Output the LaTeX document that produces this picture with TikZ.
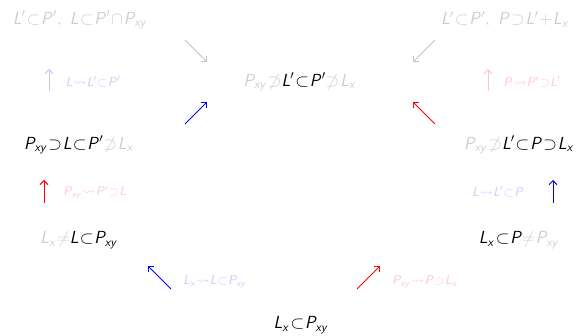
\RequirePackage{fix-cm}
\documentclass[tikz,border=0pt]{standalone}
\usepackage{amssymb}
\usetikzlibrary{arrows.meta}
\DeclareMathAlphabet{\mathsfsl}{OT1}{cmss}{m}{sl}
\definecolor{lgray}{RGB}{205,205,205}
\definecolor{agray}{RGB}{195,195,195}
\definecolor{lblue}{RGB}{200,200,255}
\definecolor{lred}{RGB}{255,200,200}
\newcommand\G[1]{\textcolor{lgray}{#1}}
\newcommand\M[1]{$\thickmuskip=1mu\medmuskip=1mu\mathsfsl{#1}$}
\tikzset{
  main/.style={inner sep=0pt, font=\fontsize{17.5}{20}\selectfont},
  lab/.style={inner sep=0pt, font=\fontsize{12.8}{15}\selectfont},
  arr/.style={line width=0.9pt, -{Straight Barb[length=4pt,width=8pt]}},
}
\begin{document}
\begin{tikzpicture}[x=1pt,y=-1pt]
\useasboundingbox (0,0) rectangle (587,336);
% main formulas
\node[main, text=lgray] (tl) at (80,20) {\M{L'\subset P',\ L\subset P'\cap P_{xy}}};
\node[main, text=lgray] (tr) at (505,20) {\M{L'\subset P',\ P\supset L'+L_x}};
\node[main] (c) at (300,82) {\M{\G{P_{xy}\not\supset} L'\subset P' \G{\not\supset L_x}}};
\node[main] (l) at (79,145) {\M{P_{xy}\supset L\subset P' \G{\not\supset L_x}}};
\node[main] (r) at (519,145) {\M{\G{P_{xy}\not\supset} L'\subset P\supset L_x}};
\node[main] (bl) at (79,240) {\M{\G{L_x\neq} L\subset P_{xy}}};
\node[main] (br) at (519,240) {\M{L_x\subset P\G{\neq P_{xy}}}};
\node[main] (b) at (301,325) {\M{L_x\subset P_{xy}}};
% labels
\node[lab, text=lblue] (lab1) at (93,82) {\M{L\rightsquigarrow L'\subset P'}};
\node[lab, text=lred] (lab2) at (532,82) {\M{P\rightsquigarrow P'\supset L'}};
\node[lab, text=lred] (lab3) at (95,193) {\M{P_{xy}\rightsquigarrow P'\supset L}};
\node[lab, text=lblue] (lab4) at (498,192) {\M{L\rightsquigarrow L'\subset P}};
\node[lab, text=lblue] (lab5) at (215,282) {\M{L_x\rightsquigarrow L\subset P_{xy}}};
\node[lab, text=lred] (lab6) at (425,282) {\M{P_{xy}\rightsquigarrow P\supset L_x}};
% arrow endpoints
\coordinate (a1s) at (185,40);  \coordinate (a1e) at (207,62);
\coordinate (a2s) at (435,40);  \coordinate (a2e) at (413,62);
\coordinate (a3s) at (49,91);   \coordinate (a3e) at (49,69);
\coordinate (a4s) at (488,91);  \coordinate (a4e) at (488,69);
\coordinate (a5s) at (185,124); \coordinate (a5e) at (207,102);
\coordinate (a6s) at (435,124); \coordinate (a6e) at (413,102);
\coordinate (a7s) at (44,203);  \coordinate (a7e) at (44,180);
\coordinate (a8s) at (553,203); \coordinate (a8e) at (553,180);
\coordinate (a9s) at (171,289); \coordinate (a9e) at (148,266);
\coordinate (a10s) at (357,289); \coordinate (a10e) at (380,266);
\draw[arr, agray] (a1s) -- (a1e);
\draw[arr, agray] (a2s) -- (a2e);
\draw[arr, lblue] (a3s) -- (a3e);
\draw[arr, lred] (a4s) -- (a4e);
\draw[arr, blue] (a5s) -- (a5e);
\draw[arr, red] (a6s) -- (a6e);
\draw[arr, red] (a7s) -- (a7e);
\draw[arr, blue] (a8s) -- (a8e);
\draw[arr, blue] (a9s) -- (a9e);
\draw[arr, red] (a10s) -- (a10e);
\end{tikzpicture}
\end{document}
